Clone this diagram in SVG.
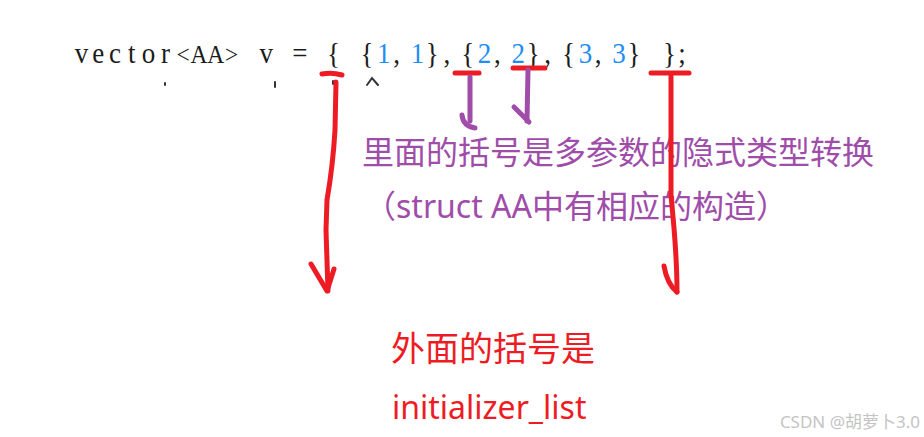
<svg xmlns="http://www.w3.org/2000/svg" width="924" height="437" viewBox="0 0 924 437">
<style>
.code{font-family:"Liberation Serif","DejaVu Serif",serif;font-size:30px;fill:#1c1c1c}
.num{fill:#1E8EF5}
.nar{font-size:26px}
.cn{font-family:"Noto Sans","Noto Sans CJK SC",sans-serif}
.purple{fill:#A04DAA;font-size:32px}
.red{fill:#ED1C24}
.rs{fill:none;stroke:#ED1C24;stroke-width:5;stroke-linecap:round;stroke-linejoin:round}
.ps{fill:none;stroke:#A04DAA;stroke-width:5;stroke-linecap:round;stroke-linejoin:round}
.frag{fill:none;stroke:#333;stroke-width:2;stroke-linecap:round}
</style>
<rect width="924" height="437" fill="#ffffff"/>
<g id="code-line">
<text class="code" transform="scale(0.9,1)" y="63" text-anchor="middle"><tspan x="90.44">v</tspan><tspan x="109.11">e</tspan><tspan x="127.78">c</tspan><tspan x="146.44">t</tspan><tspan x="165.11">o</tspan><tspan x="183.78">r</tspan><tspan x="203.5" class="nar">&lt;</tspan><tspan x="221.11" class="nar">A</tspan><tspan x="239.78" class="nar">A</tspan><tspan x="257.4" class="nar">&gt;</tspan><tspan x="295.78">v</tspan><tspan x="333.11">=</tspan><tspan x="370.44">{</tspan><tspan x="407.78">{</tspan><tspan x="426.44" class="num">1</tspan><tspan x="440.6">,</tspan><tspan x="463.78" class="num">1</tspan><tspan x="480.4">}</tspan><tspan x="496.6">,</tspan><tspan x="519.78">{</tspan><tspan x="538.44" class="num">2</tspan><tspan x="552.6">,</tspan><tspan x="575.78" class="num">2</tspan><tspan x="592.4">}</tspan><tspan x="608.6">,</tspan><tspan x="631.78">{</tspan><tspan x="650.44" class="num">3</tspan><tspan x="664.6">,</tspan><tspan x="687.78" class="num">3</tspan><tspan x="704.4">}</tspan><tspan x="743.78">}</tspan><tspan x="757.9">;</tspan></text>
<g id="next-line-fragments">
<path class="frag" d="M165,83 L165,85"/>
<path class="frag" d="M275,82 L275,87"/>
<path class="frag" d="M333,81 L333,84"/>
<path class="frag" stroke-width="1.5" d="M367,85 L372,78 L378,85"/>
</g>
</g>
<g id="inner-note">
<text class="cn purple" x="362" y="164">里面的括号是多参数的隐式类型转换</text>
<text class="cn purple" x="364" y="218">（struct AA中有相应的构造）</text>
</g>
<g id="outer-note">
<text class="cn red" x="391" y="361" font-size="34">外面的括号是</text>
<text class="cn red" x="392" y="419" font-size="32">initializer_list</text>
</g>
<g id="watermark">
<text x="920" y="428" text-anchor="end" font-family="Noto Sans, Noto Sans CJK SC, sans-serif" font-size="17" fill="#c4c4c4">CSDN @胡萝卜3.0</text>
</g>
<g id="connectors">
<path class="rs" d="M322,74 Q332,72 342,75"/>
<path class="rs" d="M336,82 L335,130 Q333,165 327,200 L326,230 L328,291"/>
<path class="rs" d="M311,264 L327,291 L334,269"/>
<path class="rs" d="M651,73 L689,73"/>
<path class="rs" d="M671,76 L671,195 L674,228 Q677,265 677,292"/>
<path class="rs" d="M664,266 Q667,284 677,292"/>
<path class="rs" d="M455,73 L479,73"/>
<path class="rs" d="M513,68 L545,68"/>
<path class="ps" d="M470,77 L470,121"/>
<path class="ps" d="M462,115 Q463,126 475,128"/>
<path class="ps" d="M528,70 L527,121"/>
<path class="ps" d="M514,107 L529,122"/>
</g>
</svg>
